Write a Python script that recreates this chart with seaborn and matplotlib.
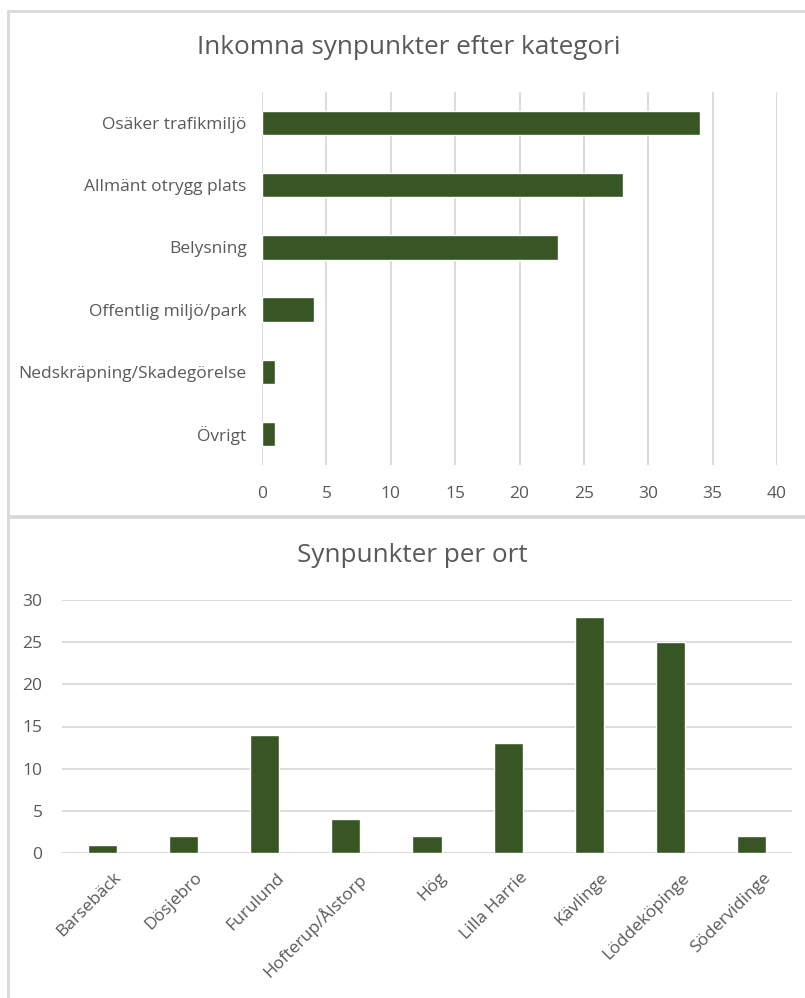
import matplotlib
matplotlib.use("Agg")
import matplotlib.pyplot as plt
import matplotlib.transforms as mtrans
import seaborn as sns
import pandas as pd
from matplotlib.patches import Rectangle

# Inkomna synpunkter efter kategori
kategorier = ["Osäker trafikmiljö", "Allmänt otrygg plats", "Belysning",
              "Offentlig miljö/park", "Nedskräpning/Skadegörelse", "Övrigt"]
antal_kategori = [34, 28, 23, 4, 1, 1]

# Synpunkter per ort
orter = ["Barsebäck", "Dösjebro", "Furulund", "Hofterup/Ålstorp", "Hög",
         "Lilla Harrie", "Kävlinge", "Löddeköpinge", "Södervidinge"]
antal_ort = [1, 2, 14, 4, 2, 13, 28, 25, 2]

GREEN = "#375623"
TEXT = "#595959"
GRID = "#d9d9d9"

sns.set_theme(style="white")
plt.rcParams["font.family"] = ["Open Sans", "DejaVu Sans"]

W, H = 805, 998
fig = plt.figure(figsize=(W / 100, H / 100), dpi=100)


def box(l, t, r, b):
    # omräkning från pixlar till figurkoordinater
    return [l / W, 1 - b / H, (r - l) / W, (b - t) / H]


# ramar runt de två diagrammen
fig.patches.append(Rectangle((8 / W, 1 - 516 / H), 1.0, (516 - 11) / H,
                             transform=fig.transFigure, fill=False,
                             edgecolor=GRID, linewidth=2))
fig.patches.append(Rectangle((8 / W, -0.01), 1.0, (1 - 517 / H) + 0.01,
                             transform=fig.transFigure, fill=False,
                             edgecolor=GRID, linewidth=2))

# --- övre diagram: liggande staplar ---
ax1 = fig.add_axes(box(262, 92, 777, 465))
df1 = pd.DataFrame({"Kategori": kategorier, "Antal": antal_kategori})
sns.barplot(data=df1, x="Antal", y="Kategori", orient="h", color=GREEN,
            saturation=1, width=0.39, ax=ax1)
ax1.set_xlim(0, 40)
ax1.set_xticks(range(0, 41, 5))
ax1.grid(axis="x", color=GRID, linewidth=1.3)
ax1.set_axisbelow(True)
for s in ax1.spines.values():
    s.set_visible(False)
ax1.set_xlabel("")
ax1.set_ylabel("")
ax1.tick_params(axis="y", length=0, pad=11, labelsize=12.5, labelcolor=TEXT)
ax1.tick_params(axis="x", length=0, pad=15, labelsize=12.5, labelcolor=TEXT)
fig.text(409 / W, 1 - 47 / H, "Inkomna synpunkter efter kategori",
         ha="center", va="center", fontsize=18.8, color=TEXT)

# --- nedre diagram: stående staplar ---
ax2 = fig.add_axes(box(62, 600, 792, 853))
df2 = pd.DataFrame({"Ort": orter, "Antal": antal_ort})
sns.barplot(data=df2, x="Ort", y="Antal", color=GREEN, saturation=1,
            width=0.36, ax=ax2)
ax2.set_ylim(0, 30)
ax2.set_yticks(range(0, 31, 5))
ax2.grid(axis="y", color=GRID, linewidth=1.3)
ax2.set_axisbelow(True)
for s in ax2.spines.values():
    s.set_visible(False)
ax2.set_xlabel("")
ax2.set_ylabel("")
ax2.tick_params(axis="y", length=0, pad=14, labelsize=12.5, labelcolor=TEXT)
ax2.tick_params(axis="x", length=0, pad=12, labelsize=12.5, labelcolor=TEXT)
# Excel placerar de roterade etiketterna lite till höger om staplarna
shift = mtrans.ScaledTranslation(11 / 100, 0, fig.dpi_scale_trans)
for lbl in ax2.get_xticklabels():
    lbl.set_rotation(45)
    lbl.set_ha("right")
    lbl.set_rotation_mode("anchor")
    lbl.set_transform(lbl.get_transform() + shift)
fig.text(412 / W, 1 - 555 / H, "Synpunkter per ort",
         ha="center", va="center", fontsize=18.8, color=TEXT)

fig.savefig("out.png", dpi=100)
